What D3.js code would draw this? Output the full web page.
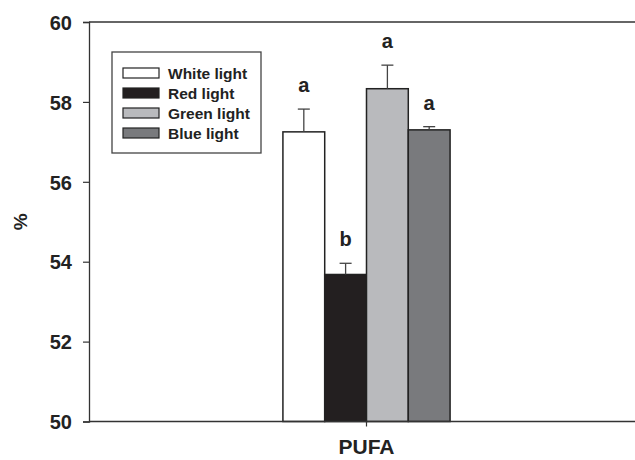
<!DOCTYPE html>
<html>
<head>
<meta charset="utf-8">
<script src="https://cdn.jsdelivr.net/npm/d3@7"></script>
<style>
  body { margin: 0; background: #fff; }
  text { font-family: "Liberation Sans", Arial, sans-serif; font-weight: bold; fill: #222; }
</style>
</head>
<body>
<script>
const groups = ['PUFA'];
const lights = ['White light', 'Red light', 'Green light', 'Blue light'];
const means = [57.25, 53.68, 58.33, 57.30];
const errs = [0.57, 0.28, 0.59, 0.08];
const letters = ['a', 'b', 'a', 'a'];
const colors = ['#ffffff', '#231f20', '#b9babd', '#797a7d'];
const yTicks = [50, 52, 54, 56, 58, 60];

const W = 635, H = 460;
const m = { left: 89, top: 22, right: -9, bottom: 38.5 };

const svg = d3.select('body').append('svg')
  .attr('width', W).attr('height', H);

const y = d3.scaleLinear().domain([50, 60]).range([H - m.bottom, m.top]);
const x0 = d3.scaleBand().domain(groups).range([m.left, W - m.right])
  .paddingInner(0).paddingOuter(1.16);
const x1 = d3.scaleBand().domain(lights).range([0, x0.bandwidth()]).padding(0);

// frame line on top
svg.append('line')
  .attr('x1', m.left).attr('x2', W).attr('y1', y(60)).attr('y2', y(60))
  .attr('stroke', '#333').attr('stroke-width', 1.3);

const yAxis = svg.append('g')
  .attr('transform', `translate(${m.left},0)`)
  .call(d3.axisLeft(y).tickValues(yTicks).tickSize(6).tickPadding(11).tickFormat(d3.format('d')));
yAxis.select('.domain').attr('stroke', '#333').attr('stroke-width', 1.3);
yAxis.selectAll('.tick line').attr('stroke', '#333').attr('stroke-width', 1.2);
yAxis.selectAll('.tick text').attr('font-size', 20).attr('dy', '0.36em')
  .style('font-family', '"Liberation Sans", Arial, sans-serif').style('font-weight', 'bold').attr('fill', '#222');

const g = svg.append('g').attr('transform', `translate(${x0('PUFA')},0)`);

g.selectAll('rect.bar').data(lights).join('rect')
  .attr('class', 'bar')
  .attr('x', d => x1(d))
  .attr('y', (d, i) => y(means[i]))
  .attr('width', x1.bandwidth())
  .attr('height', (d, i) => y(50) - y(means[i]))
  .attr('fill', (d, i) => colors[i])
  .attr('stroke', '#222')
  .attr('stroke-width', 1.5);

// error bars (upper only)
const eb = g.selectAll('g.err').data(lights).join('g').attr('class', 'err');
eb.append('line')
  .attr('x1', d => x1(d) + x1.bandwidth() / 2)
  .attr('x2', d => x1(d) + x1.bandwidth() / 2)
  .attr('y1', (d, i) => y(means[i]))
  .attr('y2', (d, i) => y(means[i] + errs[i]))
  .attr('stroke', '#444').attr('stroke-width', 1.3);
eb.append('line')
  .attr('x1', d => x1(d) + x1.bandwidth() / 2 - 6)
  .attr('x2', d => x1(d) + x1.bandwidth() / 2 + 6)
  .attr('y1', (d, i) => y(means[i] + errs[i]))
  .attr('y2', (d, i) => y(means[i] + errs[i]))
  .attr('stroke', '#444').attr('stroke-width', 1.3);

g.selectAll('text.sig').data(lights).join('text')
  .attr('class', 'sig')
  .attr('x', d => x1(d) + x1.bandwidth() / 2)
  .attr('y', (d, i) => y(means[i] + errs[i]) - 17)
  .attr('text-anchor', 'middle')
  .attr('font-size', 20)
  .text((d, i) => letters[i]);

const xAxis = svg.append('g')
  .attr('transform', `translate(0,${y(50)})`)
  .call(d3.axisBottom(x0).tickSize(5).tickPadding(13).tickSizeOuter(0));
xAxis.select('.domain').attr('stroke', '#333').attr('stroke-width', 1.3)
  .attr('d', `M${m.left},0H${W}`);
xAxis.selectAll('.tick line').attr('stroke', '#333').attr('stroke-width', 1.2);
xAxis.selectAll('.tick text').attr('font-size', 21)
  .style('font-family', '"Liberation Sans", Arial, sans-serif').style('font-weight', 'bold').attr('fill', '#222');

svg.append('text')
  .attr('transform', `translate(27,${(y(50) + y(60)) / 2}) rotate(-90)`)
  .attr('text-anchor', 'middle')
  .attr('font-size', 19)
  .text('%');

// legend
const leg = svg.append('g').attr('transform', 'translate(112,52)');
leg.append('rect').attr('width', 149).attr('height', 101)
  .attr('fill', '#fff').attr('stroke', '#444').attr('stroke-width', 1.3);
const li = leg.selectAll('g.item').data(lights).join('g')
  .attr('transform', (d, i) => `translate(11,${21 + i * 20})`);
li.append('rect').attr('y', -5).attr('width', 36).attr('height', 10)
  .attr('fill', (d, i) => colors[i]).attr('stroke', '#222').attr('stroke-width', 1.2);
li.append('text').attr('x', 45).attr('dy', '0.36em').attr('font-size', 15.5).text(d => d);
</script>
</body>
</html>
